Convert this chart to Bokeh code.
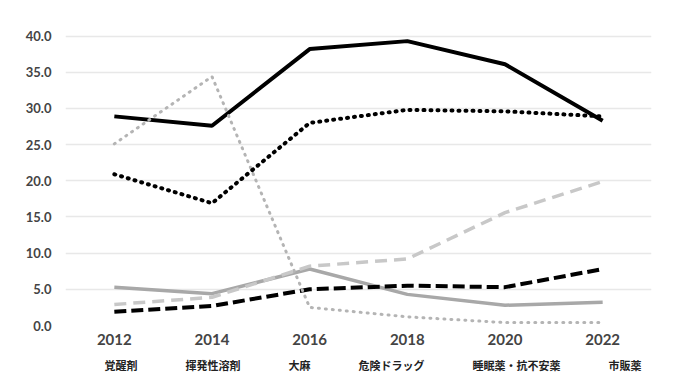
from bokeh.plotting import figure
from bokeh.layouts import column
from bokeh.models import Legend, LegendItem, FixedTicker, NumeralTickFormatter, Range1d
from bokeh.embed import file_html
from bokeh.resources import INLINE

years = ["2012", "2014", "2016", "2018", "2020", "2022"]
kakuseizai = [28.9, 27.6, 38.2, 39.3, 36.1, 28.3]
kihatsu = [5.3, 4.4, 7.8, 4.3, 2.8, 3.2]
taima = [1.9, 2.7, 5.0, 5.5, 5.3, 7.8]
kiken = [25.1, 34.4, 2.5, 1.2, 0.4, 0.4]
suimin = [20.9, 16.9, 28.0, 29.8, 29.6, 28.9]
shihan = [2.9, 3.9, 8.2, 9.2, 15.6, 19.9]
names = ["覚醒剤", "揮発性溶剤", "大麻", "危険ドラッグ", "睡眠薬・抗不安薬", "市販薬"]
y_ticks = [0, 5, 10, 15, 20, 25, 30, 35, 40, 45]

p = figure(frame_width=586, frame_height=322, x_range=years, y_range=(0, 44.5),
           output_backend="svg", toolbar_location=None,
           min_border_left=65, min_border_right=20, min_border_top=3, min_border_bottom=30)
p.outline_line_color = None
p.background_fill_color = "white"
p.border_fill_color = "white"

p.xgrid.grid_line_color = None
p.ygrid.grid_line_color = "#e8e8e8"
p.ygrid.grid_line_width = 1.5
p.yaxis.ticker = FixedTicker(ticks=y_ticks)
p.yaxis.formatter = NumeralTickFormatter(format="0.0")
for ax in (p.xaxis[0], p.yaxis[0]):
    ax.axis_line_color = None
    ax.major_tick_line_color = None
    ax.minor_tick_line_color = None
    ax.major_tick_out = 0
    ax.major_tick_in = 0
    ax.major_label_text_font = "Lato"
    ax.major_label_text_font_style = "bold"
    ax.major_label_text_color = "#444444"
p.yaxis.major_label_text_font_size = "13px"
p.yaxis.major_label_standoff = 14
p.xaxis.major_label_text_font_size = "15px"
p.xaxis.major_label_standoff = 8

styles = [
    (kakuseizai, dict(line_color="black", line_width=4)),
    (kihatsu, dict(line_color="#a8a8a8", line_width=3.5)),
    (taima, dict(line_color="black", line_width=4, line_dash="12 5")),
    (kiken, dict(line_color="#b4b4b4", line_width=3, line_dash="1 6", line_cap="round")),
    (suimin, dict(line_color="black", line_width=4, line_dash="1 6", line_cap="round")),
    (shihan, dict(line_color="#c8c8c8", line_width=3.5, line_dash="12 7")),
]
for vals, st in styles:
    p.line(years, vals, **st)

# legend strip below the chart
lg = figure(frame_width=586, frame_height=20, x_range=Range1d(0, 1), y_range=Range1d(0, 1),
            x_axis_type=None, y_axis_type=None,
            output_backend="svg", toolbar_location=None,
            min_border_left=65, min_border_right=20, min_border_top=0, min_border_bottom=0)
lg.outline_line_color = None
lg.xgrid.grid_line_color = None
lg.ygrid.grid_line_color = None
items = []
for (vals, st), name in zip(styles, names):
    r = lg.line(x=[], y=[], **st)
    items.append(LegendItem(label=name, renderers=[r]))

legend = Legend(items=items, orientation="horizontal", location="center",
                label_text_font="Noto Sans CJK JP", label_text_font_style="bold",
                label_text_font_size="11px", label_text_color="#222222",
                glyph_width=28, glyph_height=10, label_standoff=2, spacing=18,
                padding=0, margin=0, label_height=10,
                border_line_color=None, background_fill_alpha=0)
lg.add_layout(legend, "center")

layout = column(p, lg, spacing=0)
open("out.html", "w").write(file_html(layout, INLINE))
